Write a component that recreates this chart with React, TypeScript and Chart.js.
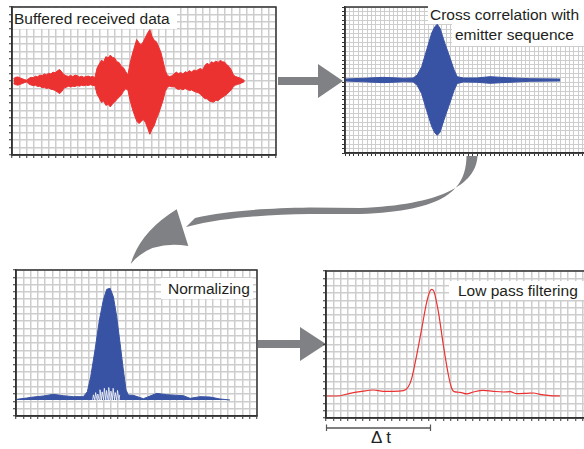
import React, { useEffect, useRef } from 'react';
import { Chart, registerables } from 'chart.js';
Chart.register(...registerables);

// ---------- Panel 1: buffered received data (upper / lower envelope of the raw signal) ----------
const p1X = [0.2, 0.5, 0.8, 1.1, 1.4, 1.7, 2.0, 2.3, 2.6, 2.9, 3.2, 3.5, 3.8, 4.1, 4.4, 4.7, 5.0, 5.3, 5.6, 5.9, 6.2, 6.5, 6.8, 7.1, 7.4, 7.7, 8.0, 8.3, 8.6, 8.9, 9.2, 9.5, 9.8, 10.1, 10.4, 10.7, 11.0, 11.3, 11.6, 11.9, 12.2, 12.5, 12.8, 13.1, 13.4, 13.7, 14.0, 14.3, 14.6, 14.9, 15.2, 15.5, 15.8, 16.1, 16.4, 16.7, 17.0, 17.3, 17.6, 17.9, 18.2, 18.5, 18.8, 19.1, 19.4, 19.7, 20.0, 20.3, 20.6, 20.9, 21.2, 21.5, 21.8, 22.1, 22.4, 22.7, 23.0, 23.3, 23.6, 23.9, 24.2, 24.5, 24.8, 25.1, 25.4, 25.7, 26.0, 26.3, 26.6, 26.9, 27.2, 27.5, 27.8, 28.1, 28.4, 28.7, 29.0, 29.3, 29.6, 29.9, 30.2, 30.5, 30.8, 31.1, 31.4, 31.7];
const p1Top = [0.32, 0.5, 0.55, 0.42, 0.3, 0.2, 0.1, 0.35, 0.5, 0.45, 0.65, 0.58, 0.8, 0.72, 0.95, 0.85, 1.05, 0.95, 1.2, 1.1, 1.4, 1.55, 1.2, 0.85, 0.7, 0.62, 0.75, 0.6, 0.8, 0.72, 0.55, 0.65, 0.5, 0.6, 0.66, 0.55, 0.62, 0.45, 1.75, 2.3, 2.8, 2.6, 3.3, 3.1, 3.5, 3.2, 3.1, 2.6, 2.5, 2.0, 1.8, 1.3, 0.8, 2.4, 3.6, 4.6, 5.6, 5.2, 4.9, 5.3, 5.9, 6.5, 6.95, 6.0, 5.5, 5.3, 4.6, 3.9, 2.7, 1.4, 0.75, 0.6, 0.7, 0.95, 1.2, 1.0, 1.15, 0.95, 1.25, 1.15, 1.4, 1.2, 1.5, 1.35, 1.55, 1.7, 1.5, 2.1, 2.4, 2.2, 2.6, 2.45, 2.7, 2.5, 2.8, 2.6, 2.55, 2.2, 1.95, 1.5, 0.8, 0.6, 0.5, 0.4, 0.25, 0.08];
const p1Bot = [-0.36, -0.5, -0.56, -0.45, -0.35, -0.22, -0.14, -0.4, -0.55, -0.63, -0.58, -0.75, -0.7, -0.9, -0.85, -1.0, -0.95, -1.1, -1.17, -1.3, -1.5, -1.71, -1.4, -0.95, -0.85, -0.72, -0.8, -0.7, -0.75, -0.6, -0.7, -0.58, -0.65, -0.55, -0.62, -0.5, -0.6, -0.62, -1.8, -2.3, -2.9, -2.7, -3.3, -3.15, -3.5, -3.1, -2.85, -2.5, -2.2, -1.9, -1.4, -1.05, -1.2, -2.6, -3.7, -4.6, -5.4, -5.75, -5.5, -5.2, -5.6, -6.4, -7.2, -6.5, -6.0, -5.1, -4.4, -3.5, -2.6, -1.4, -0.85, -0.7, -0.8, -0.75, -1.0, -1.15, -1.05, -1.2, -1.0, -1.15, -1.3, -1.2, -1.4, -1.5, -1.6, -1.8, -2.1, -2.4, -2.4, -2.7, -2.8, -2.85, -2.6, -2.65, -2.4, -2.2, -2.0, -1.8, -1.5, -1.2, -0.75, -0.55, -0.45, -0.35, -0.22, -0.09];

// ---------- Panel 2: cross correlation with emitter sequence ----------
const p2X = [0, 4.17, 8.7, 13.26, 15.5, 16.4, 17.42, 18.56, 19.7, 20.45, 20.98, 21.6, 22.7, 23.9, 24.8, 25.5, 26.9, 29.9, 32.95, 36.7, 42, 48.9];
const p2Top = [0.23, 0.38, 0.6, 0.38, 0.45, 1.13, 3.0, 6.8, 10.6, 12.1, 12.6, 11.7, 8.3, 4.9, 2.26, 0.75, 0.45, 0.45, 0.75, 0.53, 0.3, 0.23];
const p2Bot = [-0.23, -0.4, -0.6, -0.4, -0.45, -1.2, -3.1, -6.9, -10.5, -12.0, -12.5, -11.8, -8.4, -5.0, -2.3, -0.8, -0.45, -0.5, -0.75, -0.55, -0.3, -0.23];

// ---------- Panel 3: normalizing ----------
const p3X = [0.09, 1.46, 2.37, 3.74, 5.11, 6.48, 7.85, 9.22, 9.77, 10.23, 10.82, 11.42, 11.96, 12.42, 12.88, 13.33, 13.79, 14.25, 14.7, 15.07, 15.38, 16.07, 17.44, 19.27, 20.64, 22.92, 23.84, 25.2, 26.58, 27.95, 29.3];
const p3Env = [2.28, 2.46, 2.6, 2.74, 2.97, 2.78, 2.65, 2.65, 3.33, 5.39, 9.04, 13.15, 15.9, 17.35, 17.5, 16.35, 13.6, 9.95, 6.3, 3.56, 2.87, 2.83, 2.37, 3.1, 2.92, 2.78, 2.42, 2.65, 2.6, 2.33, 2.19];
const p3Base = 2.19;
// gaps (white spikes) between oscillations near the base of the main lobe
const p3GapX = [10.5, 10.6, 10.8, 10.9, 11.1, 11.2, 11.4, 11.5, 11.7, 11.8, 12.0, 12.1, 12.3, 12.4, 12.6, 12.7, 12.9, 13.0, 13.2, 13.3, 13.5, 13.6, 13.8, 13.9, 14.1, 14.2];
const p3GapY = [2.2, 2.9, 2.2, 3.2, 2.2, 3.0, 2.2, 3.6, 2.2, 3.3, 2.2, 3.8, 2.2, 3.5, 2.2, 3.9, 2.2, 3.4, 2.2, 3.8, 2.2, 3.2, 2.2, 3.5, 2.2, 2.9];

// ---------- Panel 4: low pass filtering ----------
const p4X = [0.1, 1.46, 3.27, 4.64, 6.45, 7.82, 9.18, 10.55, 11.23, 11.69, 12.37, 13.06, 13.74, 14.19, 14.42, 14.73, 15.32, 16.0, 16.69, 17.14, 17.46, 18.28, 19.19, 20.1, 21.46, 22.82, 24.19, 25.1, 26.0, 27.38, 28.28, 29.19, 30.56, 31.92];
const p4Y = [2.99, 2.99, 3.36, 3.58, 3.81, 3.63, 3.63, 3.72, 4.26, 5.4, 8.57, 12.2, 15.8, 17.28, 17.5, 17.2, 14.46, 9.93, 5.85, 4.04, 3.58, 3.49, 3.27, 3.54, 3.76, 3.63, 3.54, 3.58, 3.31, 3.36, 3.4, 3.22, 3.04, 2.99];

const RED = '#ec3131';
const BLUE = '#3953a4';
const GRID = '#cdcdcd';
const AXIS = '#333333';
const ARROW = '#808184';
const FONT = '"Liberation Sans", Arial, sans-serif';

const zip = (xs: number[], ys: number[]) => xs.map((x, i) => ({ x, y: ys[i] }));

const framePlugin = {
  id: 'frame',
  afterDraw(chart: any) {
    const { ctx, chartArea: a } = chart;
    ctx.save();
    ctx.strokeStyle = AXIS;
    ctx.lineWidth = 1.5;
    ctx.strokeRect(a.left, a.top, a.right - a.left, a.bottom - a.top);
    ctx.restore();
  },
};

type PanelProps = {
  left: number; top: number; width: number; height: number;
  xMax: number; yMin: number; yMax: number; datasets: any[]; gridWidth: number;
};

function Panel({ left, top, width, height, xMax, yMin, yMax, datasets, gridWidth }: PanelProps) {
  const ref = useRef<HTMLCanvasElement>(null);
  useEffect(() => {
    const chart = new Chart(ref.current as HTMLCanvasElement, {
      type: 'line',
      data: { datasets },
      options: {
        animation: false,
        responsive: false,
        devicePixelRatio: 1,
        events: [],
        layout: { padding: { top: 2, right: 2, left: 0, bottom: 0 } },
        plugins: { legend: { display: false }, tooltip: { enabled: false } },
        elements: { point: { radius: 0 } },
        scales: {
          x: {
            type: 'linear', min: 0, max: xMax,
            ticks: { display: false, stepSize: 1 },
            grid: { color: GRID, lineWidth: gridWidth, tickColor: AXIS, tickLength: 3, tickWidth: 1 },
            border: { display: true, color: AXIS, width: 1.5 },
            afterFit: (s: any) => { s.height = 4; },
          },
          y: {
            type: 'linear', min: yMin, max: yMax,
            ticks: { display: false, stepSize: 1 },
            grid: { color: GRID, lineWidth: gridWidth, tickColor: AXIS, tickLength: 3, tickWidth: 1 },
            border: { display: true, color: AXIS, width: 1.5 },
            afterFit: (s: any) => { s.width = 4; },
          },
        },
      } as any,
      plugins: [framePlugin],
    });
    return () => chart.destroy();
  }, []);
  return (
    <canvas
      ref={ref}
      width={width + 6}
      height={height + 6}
      style={{ position: 'absolute', left: left - 4, top: top - 2, width: width + 6, height: height + 6 }}
    />
  );
}

const envelope = (xs: number[], ys: number[], color: string) => ({
  data: zip(xs, ys), fill: 'origin', backgroundColor: color, borderColor: color, borderWidth: 1, tension: 0,
});

const labelStyle = (left: number, top: number, width: number, height: number, pad: number): React.CSSProperties => ({
  position: 'absolute', left, top, width, height, lineHeight: height + 'px', background: '#ffffff',
  fontFamily: FONT, fontSize: 15.5, color: '#231f20', paddingLeft: pad, boxSizing: 'border-box', whiteSpace: 'nowrap',
});

export default function App() {
  const d1 = [envelope(p1X, p1Top, RED), envelope(p1X, p1Bot, RED)];
  const d2 = [envelope(p2X, p2Top, BLUE), envelope(p2X, p2Bot, BLUE)];
  const d3 = [
    { data: zip(p3GapX, p3GapY), fill: false, borderColor: '#ffffff', borderWidth: 0.8, tension: 0 },
    { data: zip(p3X, p3Env), fill: { value: p3Base }, backgroundColor: BLUE, borderColor: BLUE, borderWidth: 1, tension: 0 },
  ];
  const d4 = [{ data: zip(p4X, p4Y), fill: false, borderColor: RED, borderWidth: 1.2, cubicInterpolationMode: 'monotone' }];
  return (
    <div style={{ position: 'fixed', left: 0, top: 0, width: 584, height: 449, overflow: 'hidden', background: '#ffffff' }}>
      <svg width={584} height={449} style={{ position: 'absolute', left: 0, top: 0 }}>
        {/* top straight arrow */}
        <rect x={278} y={77} width={42} height={8} fill={ARROW} />
        <polygon points="318,64 318,98 343,81" fill={ARROW} />
        {/* curved arrow */}
        <path d="M 477.5 156 C 476 185, 440 205, 360 208 L 310 207.5 C 260 208.5, 225 211, 195 218 L 186 227 C 225 217, 265 215, 310 214 L 360 214 C 445 211, 466 190, 466.5 156 Z" fill={ARROW} />
        <path d="M 176.7 209.3 Q 140 232, 130.7 264 Q 150 240, 188.3 246 Z" fill={ARROW} />
        {/* bottom straight arrow */}
        <rect x={258} y={340} width={45} height={8} fill={ARROW} />
        <polygon points="300,327 300,361 326,344" fill={ARROW} />
        {/* delta t marker */}
        <line x1={326} y1={428} x2={431} y2={428} stroke="#555555" strokeWidth={1.5} />
        <line x1={326.5} y1={424.5} x2={326.5} y2={431} stroke="#555555" strokeWidth={1.2} />
        <line x1={430.5} y1={424.5} x2={430.5} y2={431} stroke="#555555" strokeWidth={1.2} />
      </svg>
      <Panel left={12} top={7} width={264} height={148} xMax={36} yMin={-10} yMax={10} datasets={d1} gridWidth={1.5} />
      <Panel left={345} top={7} width={264} height={146} xMax={60} yMin={-16.5} yMax={16.5} datasets={d2} gridWidth={1} />
      <Panel left={16} top={270} width={241} height={146} xMax={33} yMin={0} yMax={20} datasets={d3} gridWidth={1.5} />
      <Panel left={326} top={271} width={264} height={147} xMax={36} yMin={0} yMax={20} datasets={d4} gridWidth={1.5} />
      <div style={labelStyle(13, 8, 164, 21, 1)}>Buffered received data</div>
      <div style={labelStyle(428, 6, 160, 18, 2)}>Cross correlation with</div>
      <div style={labelStyle(452, 24, 136, 22, 3)}>emitter sequence</div>
      <div style={labelStyle(161, 278, 92, 21, 7)}>Normalizing</div>
      <div style={labelStyle(449, 281, 140, 19, 9)}>Low pass filtering</div>
      <div style={{ position: 'absolute', left: 371, top: 429, fontFamily: FONT, fontSize: 17, lineHeight: '18px', color: '#231f20', whiteSpace: 'nowrap' }}>Δ t</div>
    </div>
  );
}
